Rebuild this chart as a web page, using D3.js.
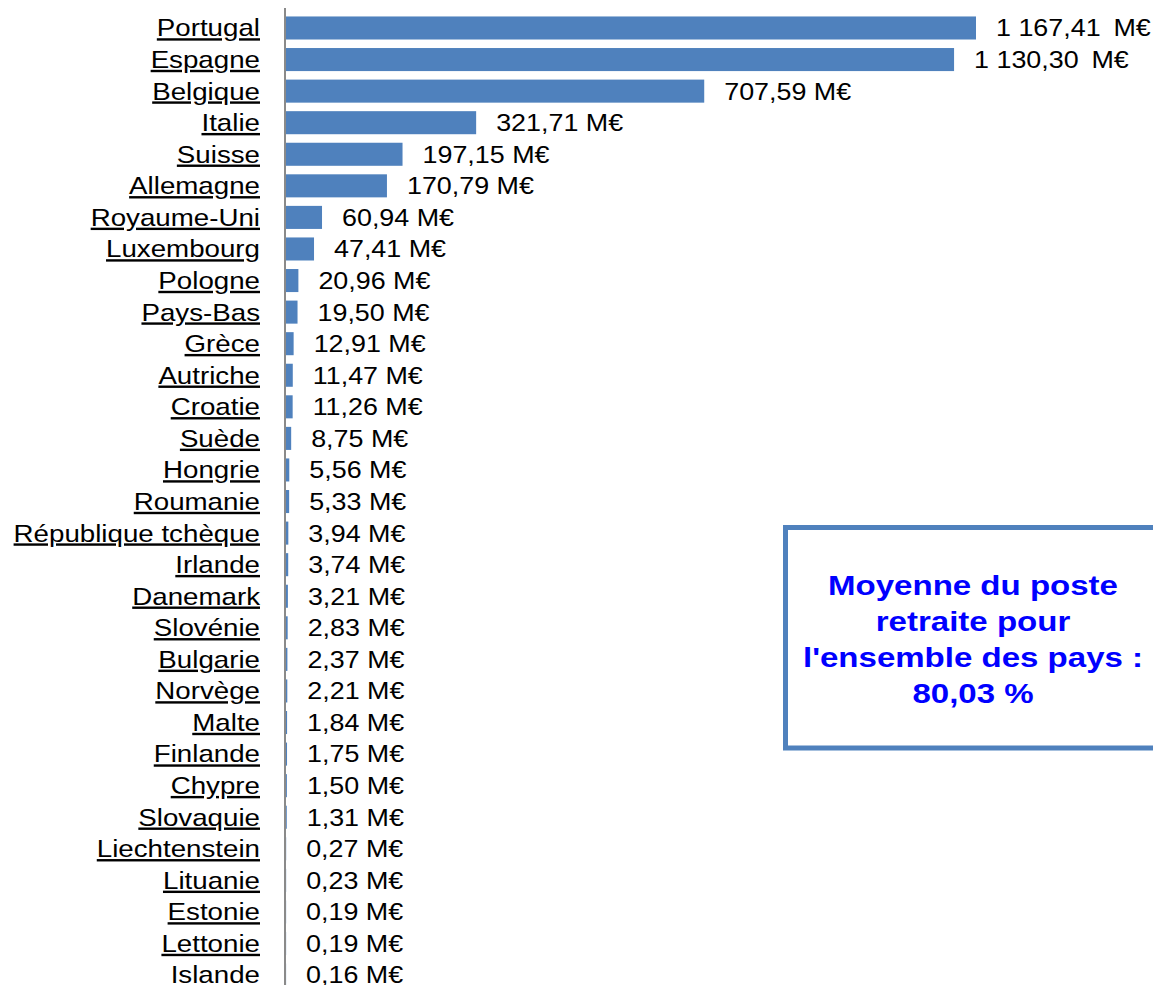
<!DOCTYPE html>
<html>
<head>
  <meta charset="utf-8">
  <title>Poste retraite par pays</title>
  <script src="https://cdn.jsdelivr.net/npm/d3@7"></script>
  <style>
    body { margin: 0; background: #fff; }
    text { font-family: "Liberation Sans", Arial, sans-serif; }
  </style>
</head>
<body>
  <svg width="1153" height="985"></svg>
</body>
<script>

const countries = ['Portugal', 'Espagne', 'Belgique', 'Italie', 'Suisse', 'Allemagne',
  'Royaume-Uni', 'Luxembourg', 'Pologne', 'Pays-Bas', 'Grèce', 'Autriche', 'Croatie',
  'Suède', 'Hongrie', 'Roumanie', 'République tchèque', 'Irlande', 'Danemark', 'Slovénie',
  'Bulgarie', 'Norvège', 'Malte', 'Finlande', 'Chypre', 'Slovaquie', 'Liechtenstein',
  'Lituanie', 'Estonie', 'Lettonie', 'Islande'];

const values = [1167.41, 1130.30, 707.59, 321.71, 197.15, 170.79, 60.94, 47.41, 20.96,
  19.50, 12.91, 11.47, 11.26, 8.75, 5.56, 5.33, 3.94, 3.74, 3.21, 2.83, 2.37, 2.21,
  1.84, 1.75, 1.50, 1.31, 0.27, 0.23, 0.19, 0.19, 0.16];

const noteLines = ['Moyenne du poste', 'retraite pour', "l'ensemble des pays :", '80,03 %'];

const data = countries.map((c, i) => ({ name: c, value: values[i] }));

const svg = d3.select('svg');
const x0 = 286;
const stretchLabel = 1.155;
const stretchVal = 1.12;

// euro format, french style
let fmt = v => {
  let s = v.toFixed(2).replace('.', ',');
  let parts = s.split(',');
  let ip = parts[0].replace(/\B(?=(\d{3})+(?!\d))/g, ' ');
  let gap = v >= 1000 ? '\u00a0\u2009' : '\u00a0';
  return ip + ',' + parts[1] + gap + 'M€';
}

let x = d3.scaleLinear().domain([0, 1167.41]).range([x0, 976]);
let y = d3.scaleBand().domain(countries).range([12.2, 12.2 + 31 * 31.57])
  .paddingInner(0.27).paddingOuter(0.135);

svg.selectAll('rect.bar').data(data).enter().append('rect')
  .attr('class', 'bar')
  .attr('x', x0)
  .attr('y', d => y(d.name))
  .attr('width', d => x(d.value) - x0)
  .attr('height', y.bandwidth())
  .style('fill', '#4f81bd');

// axis line
svg.append('line')
  .attr('x1', 285).attr('x2', 285)
  .attr('y1', 8).attr('y2', 985)
  .style('stroke', '#8a8a8a')
  .style('stroke-width', 2);

svg.selectAll('text.label').data(data).enter().append('text')
  .attr('class', 'label')
  .attr('transform', d => 'translate(260,' + (y(d.name) + y.bandwidth() / 2) + ') scale(' + stretchLabel + ',1)')
  .attr('dy', '0.35em')
  .attr('text-anchor', 'end')
  .style('font-size', '24px')
  .style('text-decoration', 'underline')
  .style('fill', '#000')
  .text(d => d.name);

svg.selectAll('text.val').data(data).enter().append('text')
  .attr('class', 'val')
  .attr('transform', d => 'translate(' + (x(d.value) + 20) + ',' + (y(d.name) + y.bandwidth() / 2) + ') scale(' + stretchVal + ',1)')
  .attr('dy', '0.35em')
  .style('font-size', '24px')
  .style('fill', '#000')
  .text(d => fmt(d.value));

// note box
svg.append('rect')
  .attr('x', 785.5).attr('y', 527.5)
  .attr('width', 390).attr('height', 220.5)
  .style('fill', '#fff')
  .style('stroke', '#4f81bd')
  .style('stroke-width', 5);

let note = svg.append('g');
noteLines.forEach((t, i) => {
  note.append('text')
    .attr('transform', 'translate(973,' + (595 + i * 36) + ') scale(1.18,1)')
    .attr('text-anchor', 'middle')
    .style('font-size', '28px')
    .style('font-weight', 'bold')
    .style('fill', '#0000ff')
    .text(t);
});

</script>
</html>
